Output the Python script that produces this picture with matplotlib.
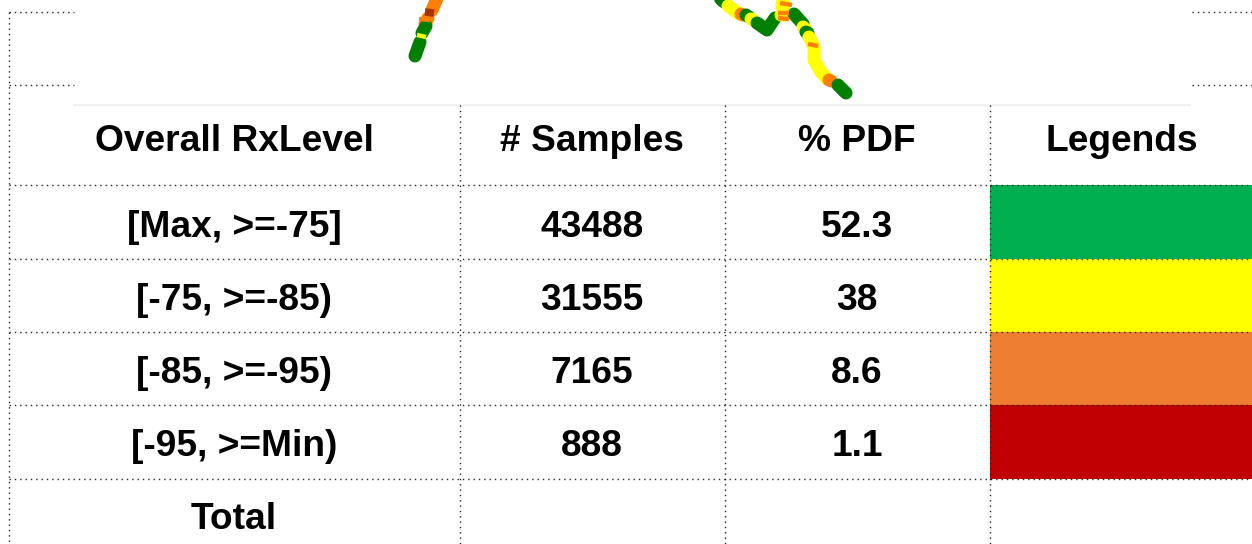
#!/usr/bin/env python3
"""Signal level table with the end of a drive route above it."""

import matplotlib

matplotlib.use("Agg")
import matplotlib.pyplot as plt

HEADERS = ["Overall RxLevel", "# Samples", "% PDF", "Legends"]
LEVELS = ["[Max, >=-75]", "[-75, >=-85)", "[-85, >=-95)", "[-95, >=Min)", "Total"]
SAMPLES = ["43488", "31555", "7165", "888", ""]
PDF = ["52.3", "38", "8.6", "1.1", ""]
LEGEND_COLORS = ["#00B050", "#FFFF00", "#ED7D31", "#C00000"]

# table grid, in image pixels
COL_EDGES = [9, 460, 725, 990, 1252]
ROW_EDGES = [105, 185, 259, 332, 405, 479, 544]
HEADER_BASELINE = 151
ROW_BASELINES = [237, 310, 383, 456, 529]

# route pieces: (colour, x values, y values)
ROUTE_GREEN = "#008000"
ROUTE_YELLOW = "#FFFF00"
ROUTE_ORANGE = "#FF8000"
ROUTE_RED = "#A83200"
ROUTE = [
    (ROUTE_ORANGE, [439, 432], [-6, 10]),
    (ROUTE_ORANGE, [428, 425], [18, 24]),
    (ROUTE_GREEN, [426, 422], [26, 33]),
    (ROUTE_GREEN, [420, 415], [42, 56]),
    (ROUTE_GREEN, [715, 724], [-6, 2]),
    (ROUTE_YELLOW, [728, 739], [6, 14]),
    (ROUTE_ORANGE, [741, 743], [14, 15]),
    (ROUTE_GREEN, [746, 749], [15, 17]),
    (ROUTE_YELLOW, [751, 753], [19, 20]),
    (ROUTE_GREEN, [757, 767, 775], [23, 30, 18]),
    (ROUTE_YELLOW, [781, 786, 782, 784], [15, 15, 6, -6]),
    (ROUTE_GREEN, [794, 803], [14, 24]),
    (ROUTE_YELLOW, [803, 806], [27, 30]),
    (ROUTE_GREEN, [806, 808], [32, 33]),
    (ROUTE_YELLOW, [809, 814, 814, 820, 827], [37, 47, 60, 71, 79]),
    (ROUTE_ORANGE, [829, 831], [80, 81]),
    (ROUTE_GREEN, [838, 846], [85, 93]),
]
ROUTE_SPOTS = [
    (ROUTE_RED, [425, 434], [12, 13]),
    (ROUTE_YELLOW, [417, 426], [35, 37]),
    (ROUTE_ORANGE, [419, 430], [19, 20]),
    (ROUTE_ORANGE, [778, 789], [13, 13]),
    (ROUTE_ORANGE, [778, 789], [18, 19]),
    (ROUTE_ORANGE, [780, 792], [3, 5]),
    (ROUTE_ORANGE, [808, 818], [44, 46]),
]


def dotted(ax, xs, ys):
    ax.plot(xs, ys, color="#222222", linewidth=1.0, linestyle=(0, (1, 2.84)), zorder=3)


def main():
    plt.rcParams["font.family"] = ["Liberation Sans", "DejaVu Sans"]
    fig = plt.figure(figsize=(12.52, 5.44), dpi=100)
    ax = fig.add_axes([0, 0, 1, 1])
    ax.set_xlim(0, 1252)
    ax.set_ylim(544, 0)
    ax.axis("off")

    for color, xs, ys in ROUTE:
        ax.plot(xs, ys, color=color, linewidth=9.4, solid_capstyle="round",
                solid_joinstyle="round", zorder=2)
    for color, xs, ys in ROUTE_SPOTS:
        lw = 5.5 if color == ROUTE_RED else 3.2
        ax.plot(xs, ys, color=color, linewidth=lw, solid_capstyle="butt", zorder=2)

    # legend swatches sit under the dotted grid
    for i, color in enumerate(LEGEND_COLORS):
        ax.fill_between(COL_EDGES[3:], ROW_EDGES[i + 1], ROW_EDGES[i + 2],
                        color=color, linewidth=0, zorder=1)

    # leftovers of the slide placeholder behind the route picture
    for y in [12, 85]:
        dotted(ax, [9, 74], [y, y])
        dotted(ax, [1192, 1252], [y, y])
    dotted(ax, [9, 9], [12, 544])

    ax.plot([74, 1190], [105, 105], color="#EEEEEE", linewidth=1.2, zorder=1)
    for x in COL_EDGES[1:4]:
        dotted(ax, [x, x], [105, 544])
    for y in ROW_EDGES[1:6]:
        dotted(ax, [9, 1252], [y, y])

    centers = [234, 592, 857, 1122]
    for x, label in zip(centers, HEADERS):
        ax.text(x, HEADER_BASELINE, label, ha="center", va="baseline",
                fontsize=26.7, fontweight="bold")
    for i, y in enumerate(ROW_BASELINES):
        for x, col in zip(centers, [LEVELS, SAMPLES, PDF]):
            ax.text(x, y, col[i], ha="center", va="baseline",
                    fontsize=26.7, fontweight="bold")

    fig.savefig("out.png", dpi=100)


if __name__ == "__main__":
    main()
